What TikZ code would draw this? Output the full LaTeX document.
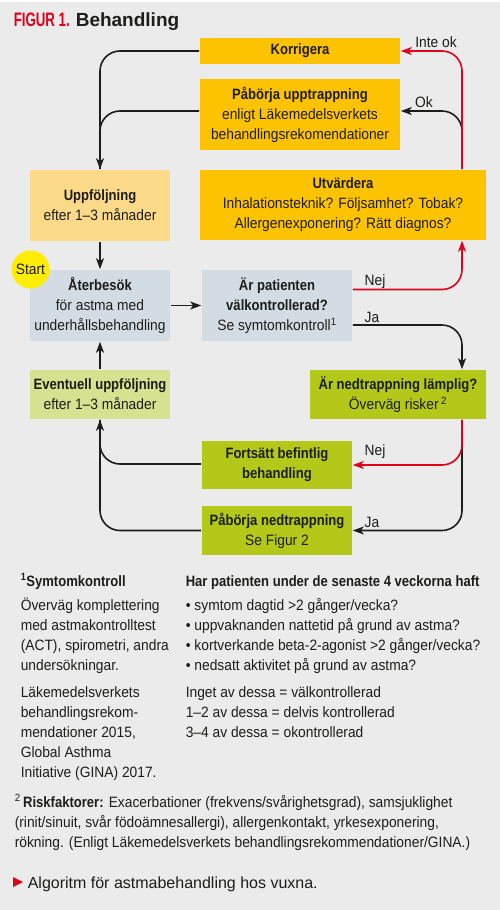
\documentclass[tikz,border=0pt]{standalone}
\usepackage{fontspec}
\setmainfont{Liberation Sans}[FakeStretch=0.92]
\newfontfamily\bdcond{Liberation Sans}[FakeStretch=0.87]
\newfontfamily\titlefont{Liberation Sans}[FakeStretch=0.68]
\newfontfamily\headfont{Liberation Sans}
\usepackage{xcolor}
\usepackage{tikz}
\usetikzlibrary{arrows.meta}

\definecolor{bggray}{HTML}{EBEBEB}
\definecolor{txtdark}{HTML}{1D1D1B}
\definecolor{figred}{HTML}{E2001A}
\definecolor{orangeM}{HTML}{FDC300}
\definecolor{orangeL}{HTML}{FDD98A}
\definecolor{grayB}{HTML}{D3DCE2}
\definecolor{greenL}{HTML}{D6E28F}
\definecolor{greenM}{HTML}{B3C819}
\definecolor{startyel}{HTML}{FFED00}

\newcommand{\hb}[1]{{\bdcond\bfseries #1}}

\begin{document}
\begin{tikzpicture}[x=1pt, y=-1pt, line width=1.6pt,
	box/.style={inner sep=0pt, align=center, text=txtdark, font=\fontsize{15}{20}\selectfont},
	lbl/.style={inner sep=0pt, text=txtdark, font=\fontsize{15}{18}\selectfont},
	fnote/.style={anchor=base west, inner sep=0pt, text=txtdark, font=\fontsize{15}{20}\selectfont},
	conn/.style={draw=txtdark, -{Stealth[length=11pt,width=8pt,inset=3pt]}},
	redconn/.style={draw=figred, -{Stealth[length=11pt,width=8pt,inset=3pt]}},
	plain/.style={draw=txtdark}]
	
	% --- 1. Hintergrund ---
	\useasboundingbox (0,0) rectangle (500,910);
	\fill[white] (0,0) rectangle (500,910);
	\fill[bggray] (0,2) rectangle (500,910);
	
	% --- 2. Titel ---
	\node[anchor=base west, inner sep=0pt, text=txtdark] (titel) at (13,27)
		{{\titlefont\bfseries\fontsize{19.5}{20}\selectfont\color{figred}FIGUR 1.}\hspace{6pt}{\headfont\bfseries\fontsize{19}{20}\selectfont Behandling}};
	
	% --- 3. Kaestchen ---
	\node[box, fill=orangeM, minimum width=200pt, minimum height=26pt] (korr) at (300,51) {\hb{Korrigera}};
	\node[box, fill=orangeM, minimum width=200pt, minimum height=71pt] (uppt) at (300,114.5)
		{\hb{Påbörja upptrappning}\\ enligt Läkemedelsverkets\\ behandlingsrekomendationer};
	\node[box, fill=orangeM, minimum width=286pt, minimum height=70pt] (utv) at (343,205)
		{\hb{Utvärdera}\\ Inhalationsteknik? Följsamhet? Tobak?\\ Allergenexponering? Rätt diagnos?};
	\node[box, fill=orangeL, minimum width=140pt, minimum height=71pt] (folj) at (100,205.5)
		{\hb{Uppföljning}\\ efter 1–3 månader};
	\node[box, fill=grayB, minimum width=140pt, minimum height=71pt] (ater) at (100,305.5)
		{\hb{Återbesök}\\ för astma med\\ underhållsbehandling};
	\node[box, fill=grayB, minimum width=150pt, minimum height=71pt] (kontr) at (277,305.5)
		{\hb{Är patienten}\\ \hb{välkontrollerad?}\\ Se symtomkontroll\textsuperscript{1}};
	\node[box, fill=greenL, minimum width=140pt, minimum height=49pt] (evfolj) at (100,394.5)
		{\hb{Eventuell uppföljning}\\ efter 1–3 månader};
	\node[box, fill=greenM, minimum width=176pt, minimum height=49pt] (nedtr) at (398,394.5)
		{\hb{Är nedtrappning lämplig?}\\ Överväg risker\,\textsuperscript{2}};
	\node[box, fill=greenM, minimum width=150pt, minimum height=48pt] (forts) at (277,465)
		{\hb{Fortsätt befintlig}\\ \hb{behandling}};
	\node[box, fill=greenM, minimum width=150pt, minimum height=49pt] (pabned) at (277,530.5)
		{\hb{Påbörja nedtrappning}\\ Se Figur 2};
	
	% Start
	\node[circle, fill=startyel, minimum size=38pt, inner sep=0pt, text=txtdark,
		font=\fontsize{15}{18}\selectfont] (start) at (30.5,269.5) {Start};
	
	% --- 4. Pfeile links ---
	\draw[conn, rounded corners=20pt] (korr.west) -| (folj.north);
	\draw[plain, rounded corners=20pt] ([yshift=3.5pt]uppt.west) -| (folj.north);
	\draw[conn] (folj.south) -- (ater.north);
	\draw[conn] (ater.east) -- (kontr.west);
	\draw[conn] (evfolj.north) -- (ater.south);
	\draw[conn, rounded corners=20pt] ([yshift=1pt]forts.west) -| (evfolj.south);
	\draw[plain, rounded corners=20pt] (pabned.west) -| (evfolj.south);
	
	% --- 5. Pfeile rechts ---
	\coordinate (rx) at (462,0);
	\draw[conn, rounded corners=20pt] (rx |- uppt.south) |- ([yshift=3.5pt]uppt.east);
	\draw[redconn, rounded corners=20pt] (rx |- utv.north) |- (korr.east);
	\draw[redconn, rounded corners=20pt] ([yshift=16pt]kontr.east) -| (rx |- utv.south);
	\draw[conn, rounded corners=20pt] ([yshift=-19.5pt]kontr.east) -| (rx |- nedtr.north);
	\draw[conn, rounded corners=20pt] (rx |- nedtr.south) |- (pabned.east);
	\draw[redconn, rounded corners=20pt] (rx |- nedtr.south) |- (forts.east);
	
	% Beschriftungen
	\node[lbl] (linteok) at (436,42) {Inte ok};
	\node[lbl] (lok) at (424,102) {Ok};
	\node[lbl] (lnejA) at (375,282) {Nej};
	\node[lbl] (ljaA) at (372,317) {Ja};
	\node[lbl] (lnejB) at (375,452) {Nej};
	\node[lbl] (ljaB) at (372,522) {Ja};
	
	% --- 6. Fussnoten ---
	\foreach \yy/\tx [count=\i] in {586/{\hb{\textsuperscript{1}Symtomkontroll}},
		610/{Överväg komplettering}, 630/{med astmakontrolltest},
		650/{(ACT), spirometri, andra}, 670/{undersökningar.},
		697/{Läkemedelsverkets}, 717/{behandlingsrekom-}, 737/{mendationer 2015,},
		757/{Global Asthma}, 777/{Initiative (GINA) 2017.}}
		\node[fnote] (vl\i) at (20,\yy) {\tx};
	
	\foreach \yy/\tx [count=\i] in {586/{\hb{Har patienten under de senaste 4 veckorna haft}},
		610/{• symtom dagtid >2 gånger/vecka?}, 630/{• uppvaknanden nattetid på grund av astma?},
		650/{• kortverkande beta-2-agonist >2 gånger/vecka?}, 670/{• nedsatt aktivitet på grund av astma?},
		697/{Inget av dessa = välkontrollerad}, 717/{1–2 av dessa = delvis kontrollerad},
		737/{3–4 av dessa = okontrollerad}}
		\node[fnote] (hr\i) at (185,\yy) {\tx};
	
	\foreach \yy/\tx [count=\i] in {807/{\textsuperscript{2}\,\hb{Riskfaktorer:} Exacerbationer (frekvens/svårighetsgrad), samsjuklighet},
		827/{(rinit/sinuit, svår födoämnesallergi), allergenkontakt, yrkesexponering,},
		847/{rökning. (Enligt Läkemedelsverkets behandlingsrekommendationer/GINA.)}}
		\node[fnote] (rf\i) at (14,\yy) {\tx};
	
	% --- 7. Bildtext ---
	\fill[figred] (13,877) -- (23,882) -- (13,887) -- cycle;
	\node[anchor=base west, inner sep=0pt, text=txtdark, font=\headfont\fontsize{16}{20}\selectfont] (capt) at (27,888)
		{Algoritm för astmabehandling hos vuxna.};
	
\end{tikzpicture}
\end{document}
